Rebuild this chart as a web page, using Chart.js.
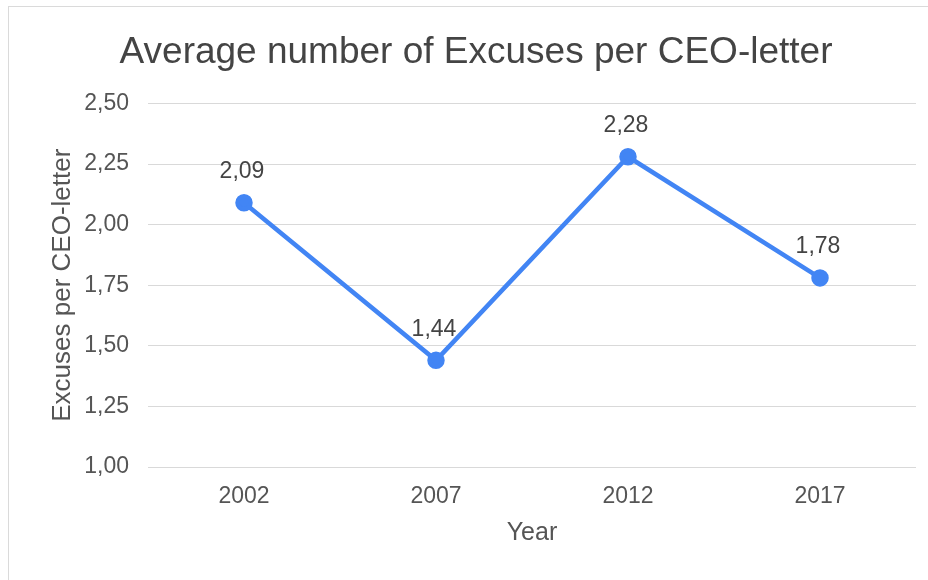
<!DOCTYPE html>
<html lang="en">
<head>
<meta charset="utf-8"/>
<title>Average number of Excuses per CEO-letter</title>
<script src="https://cdn.jsdelivr.net/npm/chart.js"></script>
<style>
  body {
    margin: 0;
    padding: 0;
    background: #fff;
    overflow: hidden;
  }
  .frame {
    position: absolute;
    left: 8px;
    top: 6px;
    width: 960px;
    height: 620px;
    border: 1px solid #dadada;
  }
  #lineChart {
    position: absolute;
    left: 0;
    top: 0;
  }
</style>
</head>
<body>
<div class="frame"></div>
<canvas id="lineChart" width="928" height="580"></canvas>
<script>
  const years = ['2002', '2007', '2012', '2017'];
  const excuses = [2.09, 1.44, 2.28, 1.78];
  const yTicks = [1.00, 1.25, 1.50, 1.75, 2.00, 2.25, 2.50];

  const comma = v => v.toFixed(2).replace('.', ',');
  const fontFamily = "'Liberation Sans', Arial, sans-serif";

  // value labels above each point
  const pointLabels = {
    id: 'pointLabels',
    afterDatasetsDraw(chart) {
      const ctx = chart.ctx;
      const meta = chart.getDatasetMeta(0);
      ctx.save();
      ctx.font = '23px ' + fontFamily;
      ctx.fillStyle = '#444';
      ctx.textAlign = 'center';
      ctx.textBaseline = 'middle';
      meta.data.forEach((pt, i) => {
        ctx.fillText(comma(excuses[i]), pt.x - 2, pt.y - 31);
      });
      ctx.restore();
    }
  };

  const ctx = document.getElementById('lineChart').getContext('2d');
  new Chart(ctx, {
    type: 'line',
    data: {
      labels: years,
      datasets: [{
        label: 'Excuses per CEO-letter',
        data: excuses,
        borderColor: '#4285f4',
        backgroundColor: '#4285f4',
        borderWidth: 4.5,
        pointRadius: 6.5,
        pointHoverRadius: 6.5,
        tension: 0
      }]
    },
    options: {
      responsive: false,
      animation: false,
      layout: {
        padding: { left: 36, right: 12, top: 0, bottom: 32 }
      },
      plugins: {
        legend: { display: false },
        tooltip: { enabled: false },
        title: {
          display: true,
          text: 'Average number of Excuses per CEO-letter',
          color: '#444',
          font: { family: fontFamily, size: 37, weight: 'normal' },
          padding: { top: 31, bottom: 28 }
        }
      },
      scales: {
        x: {
          offset: true,
          afterFit(scale) { scale.height = 81; },
          grid: { display: false, drawTicks: false },
          border: { display: false },
          ticks: {
            color: '#555',
            padding: 16,
            font: { family: fontFamily, size: 23 }
          },
          title: {
            display: true,
            text: 'Year',
            color: '#555',
            font: { family: fontFamily, size: 25 },
            padding: { top: 0, bottom: 0 }
          }
        },
        y: {
          min: 1,
          max: 2.5,
          afterFit(scale) { scale.width = 112; },
          afterBuildTicks(scale) {
            scale.ticks = yTicks.map(v => ({ value: v }));
          },
          grid: { color: '#d9d9d9', lineWidth: 1, drawTicks: false },
          border: { display: false },
          ticks: {
            color: '#555',
            padding: 19,
            font: { family: fontFamily, size: 23 },
            callback: v => comma(v)
          },
          title: {
            display: true,
            text: 'Excuses per CEO-letter',
            color: '#555',
            font: { family: fontFamily, size: 26 },
            padding: { top: 11, bottom: 0 }
          }
        }
      }
    },
    plugins: [pointLabels]
  });
</script>
</body>
</html>
